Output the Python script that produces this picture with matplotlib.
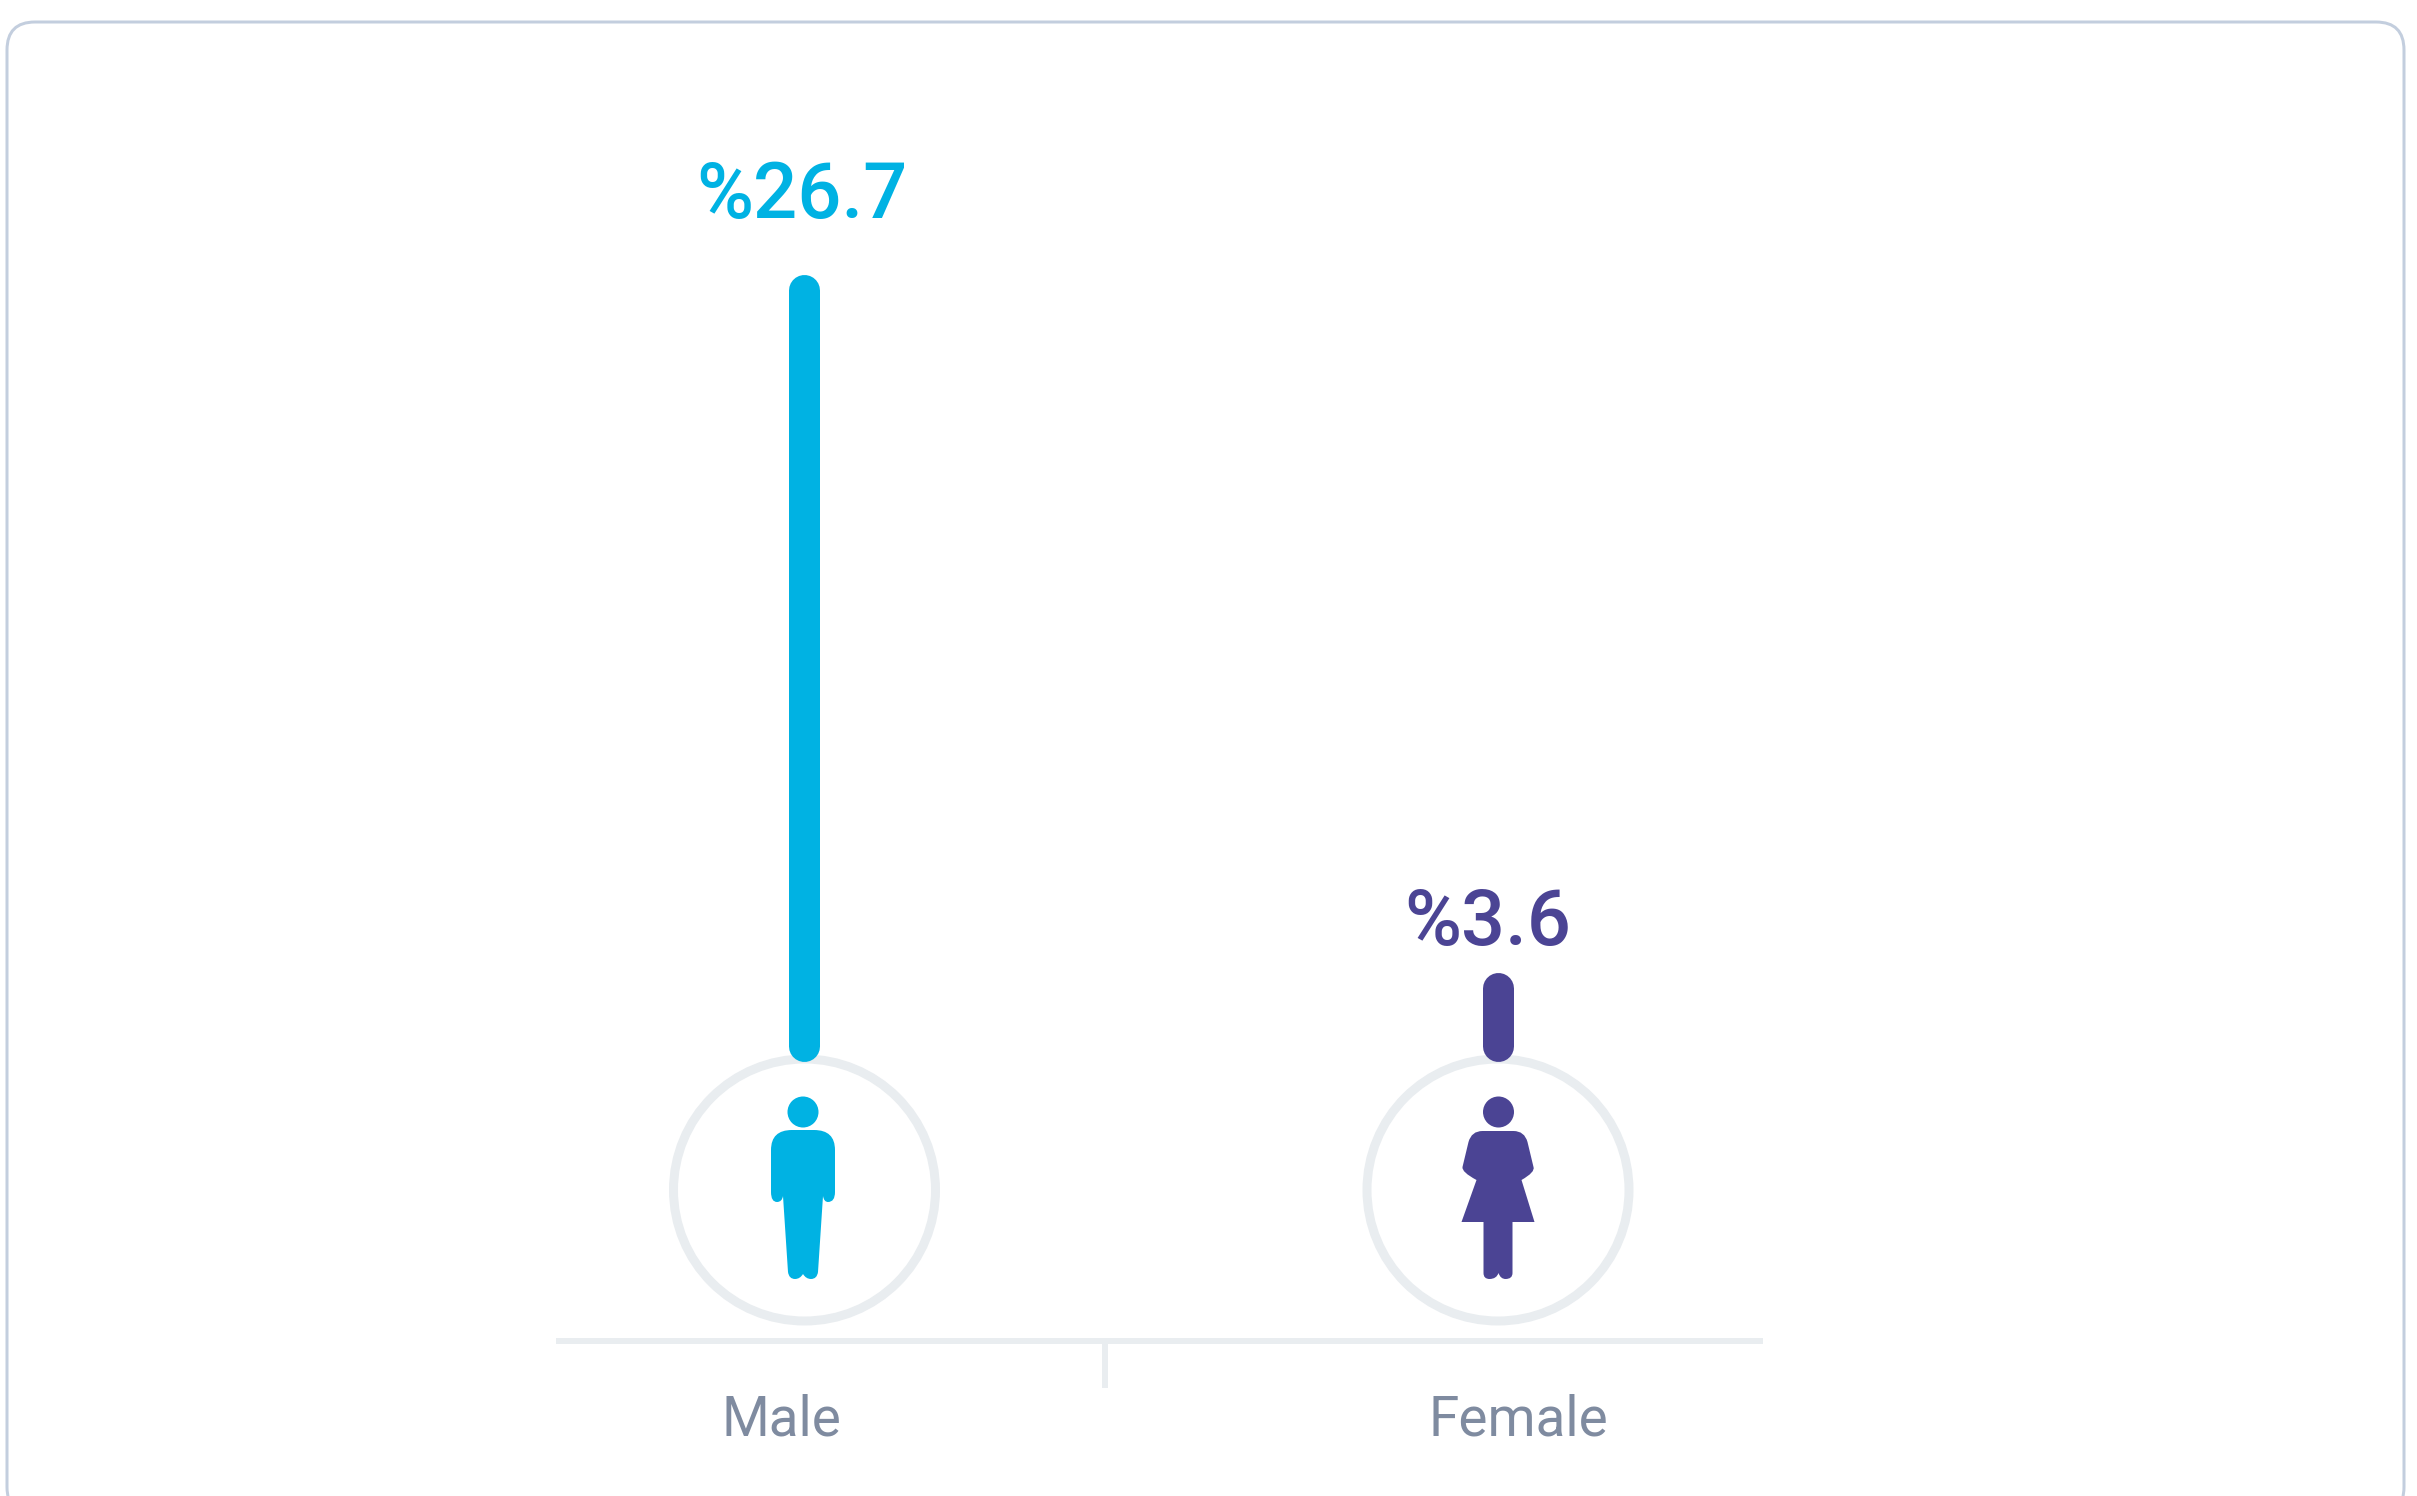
import matplotlib

matplotlib.use("Agg")
import matplotlib.pyplot as plt
from matplotlib.patches import Circle, FancyBboxPatch, PathPatch
from matplotlib.path import Path

# data
categories = ["Male", "Female"]
values = [26.7, 3.6]
colors = ["#00B2E3", "#4B4494"]

WIDTH, HEIGHT = 2417, 1496
GRID = "#E9EDF0"
FRAME = "#C3CEDE"
LABEL = "#7F8BA0"
PX = 72 / 100  # points per pixel at dpi 100


def male_icon(cx):
    M, L, C = Path.MOVETO, Path.LINETO, Path.CURVE3
    pts = [
        (-11, 18, M), (11, 18, L), (32, 18, C), (32, 38, C), (32, 80, L),
        (32, 90, C), (25, 90, C), (21, 90, C), (20, 84, C), (15, 160, L),
        (14, 167, C), (8, 167, C), (3, 167, C), (0, 162, C), (-3, 167, C),
        (-8, 167, C), (-14, 167, C), (-15, 160, C), (-20, 84, L), (-21, 90, C),
        (-26, 90, C), (-32, 90, C), (-32, 80, C), (-32, 38, L), (-32, 18, C),
        (-11, 18, C),
    ]
    return Path([(cx + p[0], 1112 + p[1]) for p in pts], [p[2] for p in pts])


def female_icon(cx):
    M, L, C = Path.MOVETO, Path.LINETO, Path.CURVE3
    pts = [
        (-16, 19, M), (15, 19, L), (26, 19, C), (29, 30, C), (35, 55, L),
        (37, 60, C), (23, 68, C), (36, 110, L), (14, 110, L), (14, 161, L),
        (14, 167, C), (7, 167, C), (2, 167, C), (0, 161, C), (-2, 167, C),
        (-9, 167, C), (-15, 167, C), (-15, 161, C), (-15, 110, L), (-37, 110, L),
        (-22, 68, L), (-37, 60, C), (-36, 55, C), (-30, 30, L), (-27, 19, C),
        (-16, 19, C),
    ]
    return Path([(cx + p[0], 1112 + p[1]) for p in pts], [p[2] for p in pts])


fig = plt.figure(figsize=(WIDTH / 100, HEIGHT / 100), dpi=100, facecolor="white")

# page layer in pixel coordinates: card frame, rings, icons, text
page = fig.add_axes([0, 0, 1, 1], zorder=0)
page.set_xlim(0, WIDTH)
page.set_ylim(HEIGHT, 0)
page.axis("off")

page.add_patch(FancyBboxPatch((35, 50), 2341, 1437, boxstyle="round,pad=28,rounding_size=28",
                              fc="white", ec=FRAME, lw=3 * PX, clip_on=True))

# chart layer: value scale on y, categories on x
x_centers = [804, 1497.5]
left, right, top, bottom = 556, 1763, 100, 1341
px_per_unit = 30.216
zero_px = 1097.1  # bar end centre before the round cap

ax = fig.add_axes([left / WIDTH, 1 - bottom / HEIGHT, (right - left) / WIDTH, (bottom - top) / HEIGHT], zorder=1)
ax.patch.set_alpha(0)
step = x_centers[1] - x_centers[0]
ax.set_xlim((left - x_centers[0]) / step, (right - x_centers[0]) / step)
ax.set_ylim((zero_px - bottom) / px_per_unit, (zero_px - top) / px_per_unit)
for name in ["left", "right", "top"]:
    ax.spines[name].set_visible(False)
ax.spines["bottom"].set_color(GRID)
ax.spines["bottom"].set_linewidth(6 * PX)
ax.spines["bottom"].set_capstyle("butt")
ax.set_yticks([])
ax.set_xticks([(1105 - x_centers[0]) / step])
ax.set_xticklabels([])
ax.tick_params(axis="x", length=47 * PX, width=6 * PX, color=GRID)

bar_base = (zero_px - 1045.5) / px_per_unit
for i, (value, color) in enumerate(zip(values, colors)):
    ax.plot([i, i], [bar_base, value], color=color, lw=31 * PX, solid_capstyle="round")

icons = [male_icon, female_icon]
ring_x = [804.5, 1498]
icon_x = [803, 1498.5]
label_x = [781, 1518]
value_x = [801.5, 1488]
value_y = [218, 945]
for i, (cat, value, color) in enumerate(zip(categories, values, colors)):
    page.add_patch(Circle((ring_x[i], 1190), 131, fc="white", ec=GRID, lw=9 * PX))
    page.add_patch(Circle((icon_x[i], 1112), 15.5, fc=color, ec="none"))
    page.add_patch(PathPatch(icons[i](icon_x[i]), fc=color, ec="none"))
    page.text(value_x[i], value_y[i], f"%{value}", color=color, fontsize=56, family="Roboto",
              fontweight="medium", ha="center", va="baseline")
    page.text(label_x[i], 1436, cat, color=LABEL, fontsize=39.5, family="Roboto", ha="center", va="baseline")

fig.savefig("out.png", dpi=100)
